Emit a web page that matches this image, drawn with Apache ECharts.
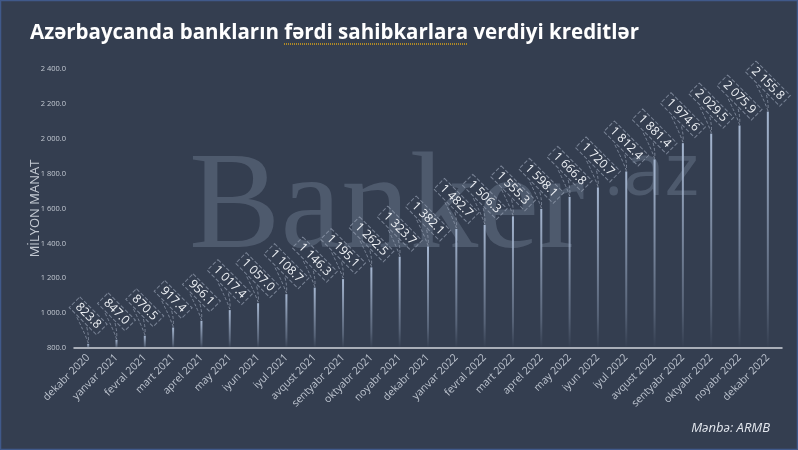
<!DOCTYPE html>
<html><head><meta charset="utf-8">
<script src="https://cdn.jsdelivr.net/npm/echarts@6/dist/echarts.min.js"></script>
<style>html,body{margin:0;padding:0;background:#343e50;}#c{width:798px;height:450px;}</style>
</head><body><div id="c"></div>
<script>
const categories = ["dekabr 2020","yanvar 2021","fevral 2021","mart 2021","aprel 2021","may 2021","iyun 2021","iyul 2021","avqust 2021","sentyabr 2021","oktyabr 2021","noyabr 2021","dekabr 2021","yanvar 2022","fevral 2022","mart 2022","aprel 2022","may 2022","iyun 2022","iyul 2022","avqust 2022","sentyabr 2022","oktyabr 2022","noyabr 2022","dekabr 2022"];
const loans = [823.8,847.0,870.5,917.4,956.1,1017.4,1057.0,1108.7,1146.3,1195.1,1262.5,1323.7,1382.1,1482.7,1506.3,1555.3,1598.1,1666.8,1720.7,1812.4,1881.4,1974.6,2029.5,2075.9,2155.8];
const yMin = 800, yMax = 2400, yStep = 200;
const titleText = "Azərbaycanda bankların fərdi sahibkarlara verdiyi kreditlər";
const axisName = "MİLYON MANAT";
const sourceText = "Mənbə: ARMB";

function fmt(v){
  const s = v.toFixed(1);
  const [i,d] = s.split('.');
  return i.replace(/\B(?=(\d{3})+(?!\d))/g,' ') + '.' + d;
}

const LABEL_FONT = 12, LABEL_DIST = 28, PAD_X = 4, BOX_H = 18;
const mctx = document.createElement('canvas').getContext('2d');
mctx.font = LABEL_FONT + 'px "Open Sans"';
const dashColor = 'rgba(150,160,178,0.7)';

function renderCallout(params, api){
  const p = api.coord([api.value(0), api.value(1)]);
  const w = mctx.measureText(fmt(api.value(1))).width + PAD_X*2;
  const c = [p[0], p[1] - LABEL_DIST];
  const s = Math.SQRT1_2;
  const m = [c[0] - (BOX_H/2)*s, c[1] + (BOX_H/2)*s];
  const off = Math.min(7, w/2 - 2);
  const a = [m[0] - off*s, m[1] - off*s];
  const b = [m[0] + off*s, m[1] + off*s];
  const end = [p[0], p[1] - 1];
  const style = {stroke: dashColor, lineWidth: 1, lineDash: [3,2], fill: 'none'};
  return {type:'group', children:[
    {type:'bezierCurve', shape:{x1:a[0],y1:a[1],x2:end[0],y2:end[1],cpx1:end[0]-3,cpy1:(a[1]+end[1])/2+4}, style},
    {type:'bezierCurve', shape:{x1:b[0],y1:b[1],x2:end[0],y2:end[1],cpx1:end[0]+1,cpy1:(b[1]+end[1])/2+2}, style}
  ]};
}

const chart = echarts.init(document.getElementById('c'), null, {renderer:'canvas'});
chart.setOption({
  backgroundColor:'#343e50',
  animation:false,
  textStyle:{fontFamily:'Open Sans'},
  title:{text:titleText,left:25,top:18,textStyle:{color:'#ffffff',fontSize:20.5,fontWeight:'bold',fontFamily:'Open Sans'}},
  grid:{left:74,right:16,top:69,bottom:102},
  xAxis:{type:'category',data:categories,
    axisLine:{lineStyle:{color:'#cfd3da',width:1.5}},
    axisTick:{show:false},
    axisLabel:{rotate:45,fontSize:10.5,color:'#bcc3ce',margin:8,interval:0}},
  yAxis:{type:'value',min:yMin,max:yMax,interval:yStep,
    name:axisName,nameLocation:'middle',nameRotate:90,nameGap:32,nameMoveOverlap:false,
    nameTextStyle:{color:'#c3c9d2',fontSize:13},
    axisLine:{show:false},axisTick:{show:false},splitLine:{show:false},
    axisLabel:{fontSize:7.5,color:'#c3c9d2',formatter:fmt,margin:8}},
  series:[{type:'bar',data:loans,barWidth:2,z:3,
    itemStyle:{color:new echarts.graphic.LinearGradient(0,0,0,1,[{offset:0,color:'rgba(165,182,208,1)'},{offset:0.8,color:'rgba(165,182,208,0.3)'},{offset:1,color:'rgba(165,182,208,0)'}])},
    label:{show:true,position:'top',distance:LABEL_DIST,rotate:-45,align:'center',verticalAlign:'middle',
      formatter:p=>fmt(p.value),color:'#eef1f5',fontSize:LABEL_FONT,
      borderType:'dashed',borderColor:dashColor,borderWidth:1,padding:[2,PAD_X,1,PAD_X]}
  },{
    type:'custom',z:2,data:loans.map((v,i)=>[i,v]),renderItem:renderCallout,silent:true
  }],
  graphic:[
    {type:'text',z:-10,left:189,top:143,style:{text:'Banker',font:'137px "Liberation Serif"',fill:'rgba(110,125,145,0.45)'}},
    {type:'text',z:-10,left:604,top:137,style:{text:'.az',font:'74px "Open Sans"',fill:'rgba(110,125,145,0.45)'}},
    {type:'line',shape:{x1:284,y1:44,x2:468,y2:44},style:{stroke:'#d6a21a',lineWidth:1.5,lineDash:[1,1]}},
    {type:'text',right:28,top:422,style:{text:sourceText,font:'italic 13px "Open Sans"',fill:'#e3e7ee'}},
    {type:'rect',shape:{x:0.5,y:0.5,width:797,height:449},style:{fill:'none',stroke:'#40598a',lineWidth:1.5}}
  ]
});
</script></body></html>
